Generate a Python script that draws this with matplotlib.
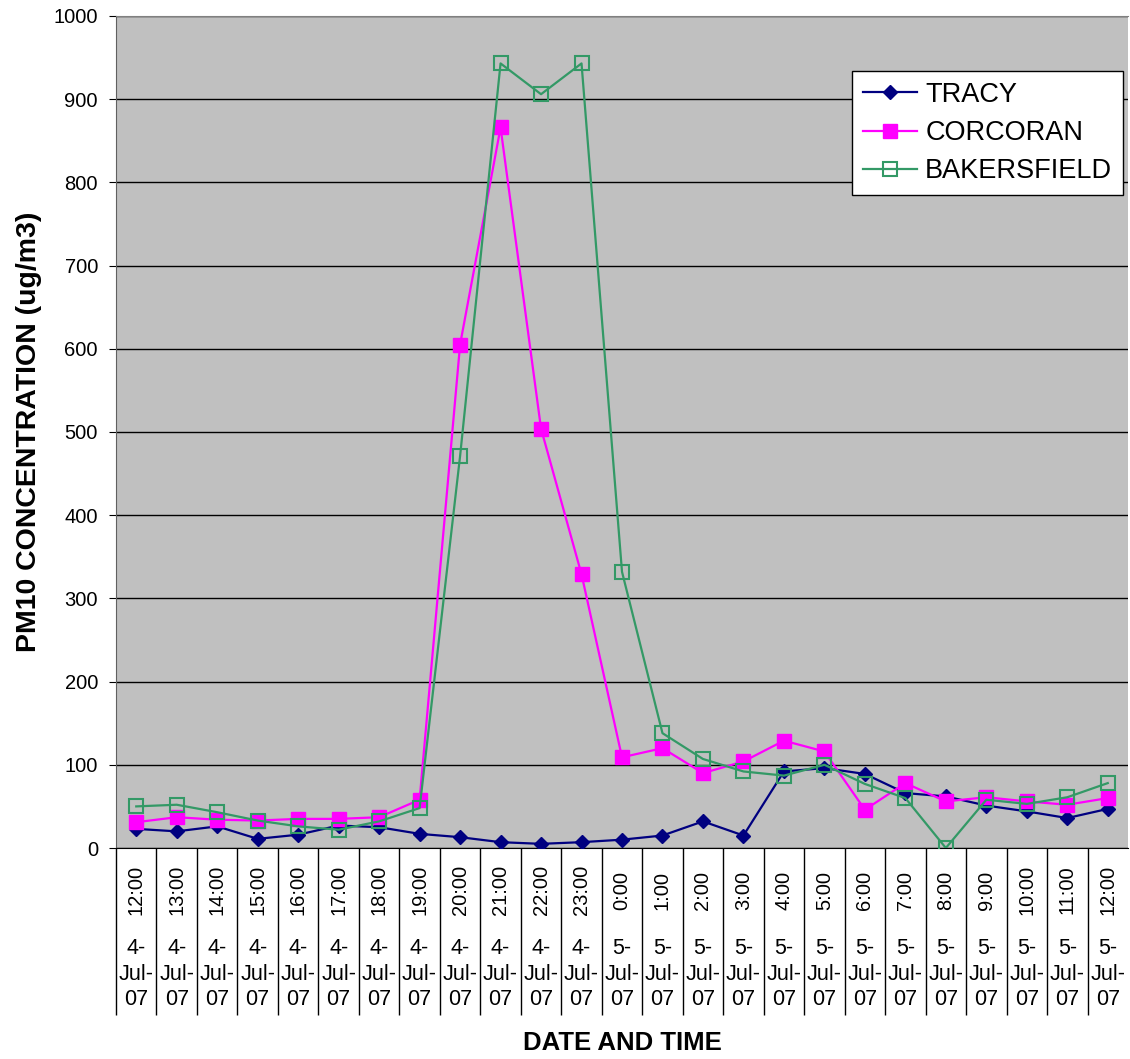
import matplotlib
matplotlib.use("Agg")
import matplotlib.pyplot as plt

plt.rcParams["font.family"] = ["Liberation Sans", "DejaVu Sans"]

# Hourly readings, 4-Jul-07 12:00 to 5-Jul-07 12:00
times = ["12:00", "13:00", "14:00", "15:00", "16:00", "17:00", "18:00",
         "19:00", "20:00", "21:00", "22:00", "23:00", "0:00", "1:00",
         "2:00", "3:00", "4:00", "5:00", "6:00", "7:00", "8:00", "9:00",
         "10:00", "11:00", "12:00"]
dates = ["4-\nJul-\n07"] * 12 + ["5-\nJul-\n07"] * 13

tracy = [23, 20, 26, 11, 16, 27, 25, 17, 13, 7, 5, 7, 10,
         15, 32, 15, 92, 96, 89, 66, 62, 51, 44, 36, 47]
corcoran = [31, 37, 34, 33, 35, 35, 37, 58, 605, 866, 504, 329, 109,
            120, 90, 104, 129, 116, 46, 78, 56, 61, 56, 52, 60]
bakersfield = [50, 52, 43, 33, 26, 22, 32, 48, 471, 943, 906, 943, 332,
               138, 107, 92, 87, 100, 77, 60, 0, 58, 53, 61, 78]

fig = plt.figure(figsize=(11.3, 10.59), dpi=100)
ax = fig.add_axes([116 / 1130, 1 - 848 / 1059, 1012 / 1130, 832 / 1059])
ax.set_facecolor("#C0C0C0")

x = list(range(len(times)))
ax.plot(x, tracy, color="#000080", lw=1.6, marker="D", ms=7,
        label="TRACY", zorder=3)
ax.plot(x, corcoran, color="#FF00FF", lw=1.6, marker="s", ms=10.5,
        label="CORCORAN", zorder=4)
ax.plot(x, bakersfield, color="#339966", lw=1.6, marker="s", ms=9.5,
        mfc="none", mew=1.5, label="BAKERSFIELD", zorder=5)

ax.set_ylim(0, 1000)
ax.set_xlim(-0.5, len(times) - 0.5)
ax.set_yticks(range(0, 1001, 100))
ax.yaxis.grid(True, color="black", lw=1)
ax.set_axisbelow(True)
ax.tick_params(axis="y", labelsize=14.5, length=5, direction="out", pad=8)

ax.spines["top"].set_color("#808080")
ax.spines["left"].set_color("#606060")
ax.spines["right"].set_visible(False)
ax.spines["bottom"].set_color("black")

# category axis: cell dividers as long minor ticks
ax.set_xticks([])
ax.set_xticks([i - 0.5 for i in x], minor=True)
ax.tick_params(axis="x", which="minor", length=120, width=1, color="black")

trans = ax.get_xaxis_transform()
for i in x:
    ax.text(i, -42 / 832, times[i], transform=trans, rotation=90,
            ha="center", va="center", fontsize=14.5)
    ax.text(i, -126 / 832, dates[i], transform=trans, ha="center",
            va="center", fontsize=15.5, linespacing=1.3)

fig.text(622 / 1130, 1 - 1043 / 1059, "DATE AND TIME", fontsize=18.5,
         fontweight="bold", ha="center", va="center")
ax.set_ylabel("PM10 CONCENTRATION (ug/m3)", fontsize=20.5, fontweight="bold",
              labelpad=8)

leg = ax.legend(loc="upper right", bbox_to_anchor=(1007 / 1012, 1 - 55 / 832),
                fontsize=19.5, frameon=True, fancybox=False, framealpha=1,
                edgecolor="black", handlelength=2.0, borderpad=0.4,
                labelspacing=0.45, handletextpad=0.3, borderaxespad=0)
leg.get_frame().set_linewidth(1)

fig.savefig("out.png", dpi=100)
